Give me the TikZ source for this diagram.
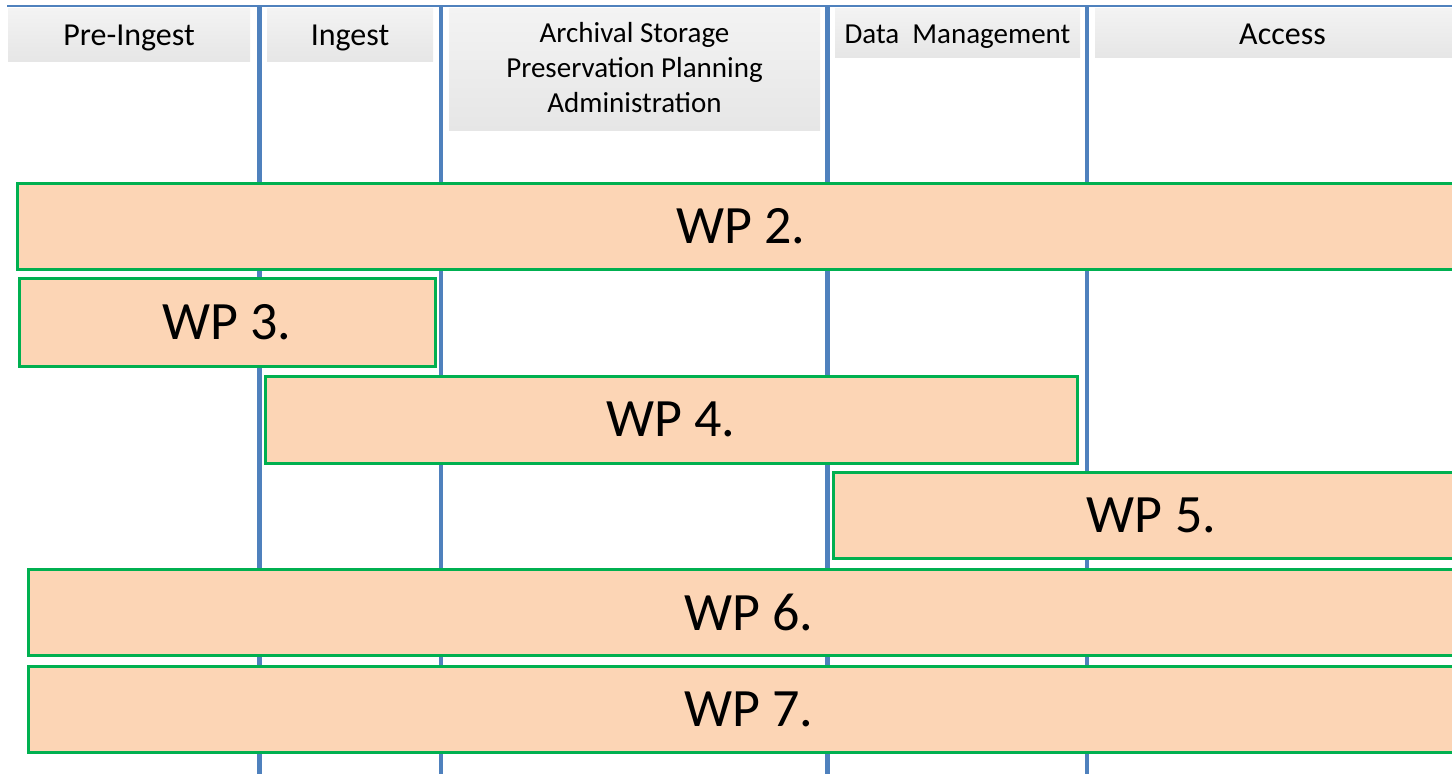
\documentclass[tikz,border=0pt]{standalone}
\usepackage{fontspec}
\setmainfont{Carlito}
\definecolor{lanec}{RGB}{79,129,189}
\definecolor{wpfill}{RGB}{252,213,181}
\definecolor{wpdraw}{RGB}{0,176,80}
\definecolor{hdrtop}{RGB}{243,243,243}
\definecolor{hdrbot}{RGB}{230,230,230}
\begin{document}
\begin{tikzpicture}[x=1pt,y=-1pt,
  lane/.style={draw=lanec,line width=4.5pt},
  topline/.style={draw=lanec,line width=2.5pt},
  hdr/.style={rectangle,inner sep=0pt,top color=hdrtop,bottom color=hdrbot,draw=none,anchor=north west},
  hlabel/.style={anchor=base,inner sep=0pt,font=\fontsize{32}{38}\selectfont},
  hlabelsm/.style={anchor=base,inner sep=0pt,font=\fontsize{29}{35}\selectfont},
  wp/.style={rectangle,draw=wpdraw,fill=wpfill,line width=3pt,inner sep=0pt,font=\fontsize{54}{60}\selectfont}]
\useasboundingbox (0,0) rectangle (1452,774);
\clip (0,0) rectangle (1452,774);
% lanes
\coordinate (tl) at (7,6);
\coordinate (tr) at (1460,6);
\coordinate (l1t) at (259.5,6);  \coordinate (l1b) at (259.5,780);
\coordinate (l2t) at (441,6);    \coordinate (l2b) at (441,780);
\coordinate (l3t) at (827.5,6);  \coordinate (l3b) at (827.5,780);
\coordinate (l4t) at (1087,6);   \coordinate (l4b) at (1087,780);
\draw[topline] (tl) -- (tr);
\draw[lane] (l1t) -- (l1b);
\draw[lane] (l2t) -- (l2b);
\draw[lane] (l3t) -- (l3b);
\draw[lane] (l4t) -- (l4b);
% header boxes
\node[hdr,minimum width=242pt,minimum height=53pt] (hpre) at (8,8) {};
\node[hdr,minimum width=166pt,minimum height=53pt] (hing) at (267,8) {};
\node[hdr,minimum width=371pt,minimum height=122pt] (harc) at (449,8) {};
\node[hdr,minimum width=245pt,minimum height=49pt] (hdm) at (835,8) {};
\node[hdr,minimum width=375pt,minimum height=49pt] (hacc) at (1095,8) {};
% header labels
\node[hlabel] (tpre) at (129,45) {Pre-Ingest};
\node[hlabel] (ting) at (350,45) {Ingest};
\node[hlabelsm] (tarc1) at (634.5,42) {Archival Storage};
\node[hlabelsm] (tarc2) at (634.5,77) {Preservation Planning};
\node[hlabelsm] (tarc3) at (634.5,112) {Administration};
\node[hlabelsm] (tdm) at (957.5,43) {Data\ \ Management};
\node[hlabel] (tacc) at (1282.5,44) {Access};
% work packages
\node[wp,minimum width=1448pt,minimum height=86pt] (wp2) at (741,226) {WP 2.};
\node[wp,minimum width=416pt,minimum height=88pt] (wp3) at (227,322) {WP 3.};
\node[wp,minimum width=812pt,minimum height=87pt] (wp4) at (671,419.5) {WP 4.};
\node[wp,minimum width=637pt,minimum height=86pt] (wp5) at (1151.5,515) {WP 5.};
\node[wp,minimum width=1442pt,minimum height=86.5pt] (wp6) at (749,612.5) {WP 6.};
\node[wp,minimum width=1442pt,minimum height=86pt] (wp7) at (749,709) {WP 7.};
\end{tikzpicture}
\end{document}
